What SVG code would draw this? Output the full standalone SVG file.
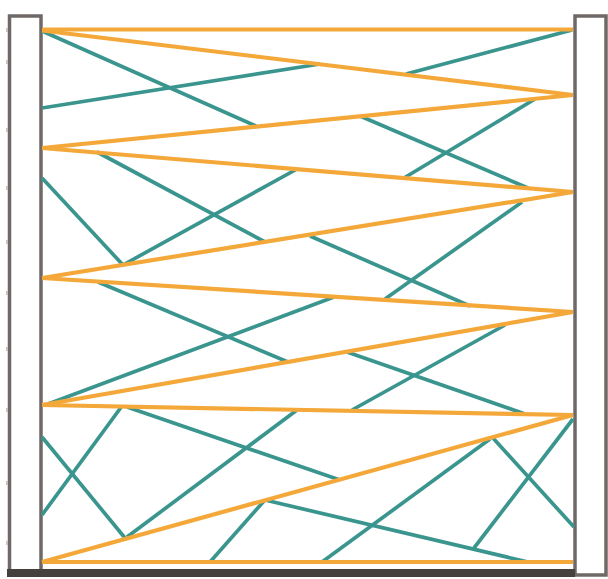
<svg xmlns="http://www.w3.org/2000/svg" width="608" height="579" viewBox="0 0 608 579">
<style>
.post{fill:#ffffff;stroke:#6e6966;stroke-width:3.5}
.base{fill:#45413f}
.nub{fill:#c4c1be}
.o{stroke:#f4a83a;stroke-width:4.2;fill:none;stroke-linecap:butt}
.t{stroke:#3a958e;stroke-width:3.7;fill:none;stroke-linecap:butt}
</style>
<rect width="608" height="579" fill="#ffffff"/>
<g id="left-post">
<rect class="post" x="9.5" y="16" width="31.5" height="556"/>
<rect class="nub" x="6" y="28" width="2" height="4"/>
<rect class="nub" x="6" y="60" width="2" height="4"/>
<rect class="nub" x="6" y="128" width="2" height="4"/>
<rect class="nub" x="6" y="186" width="2" height="4"/>
<rect class="nub" x="6" y="240" width="2" height="4"/>
<rect class="nub" x="6" y="291" width="2" height="4"/>
<rect class="nub" x="6" y="347" width="2" height="4"/>
<rect class="nub" x="6" y="408" width="2" height="4"/>
<rect class="nub" x="6" y="481" width="2" height="4"/>
<rect class="nub" x="6" y="541" width="2" height="4"/>
</g>
<g id="right-post">
<rect class="post" x="575" y="16" width="31" height="559"/>
</g>
<g id="base">
<rect class="base" x="7" y="569" width="568" height="8"/>
</g>
<g id="connectors">
<g id="bracing">
<line class="t" x1="42" y1="31" x2="256" y2="126"/>
<line class="t" x1="42" y1="108" x2="320" y2="64"/>
<line class="t" x1="572" y1="30" x2="406" y2="74"/>
<line class="t" x1="360" y1="116" x2="528" y2="188"/>
<line class="t" x1="535" y1="99" x2="404" y2="178"/>
<line class="t" x1="97" y1="152" x2="265" y2="242"/>
<line class="t" x1="42" y1="178" x2="123" y2="265"/>
<line class="t" x1="123" y1="265" x2="297" y2="169"/>
<line class="t" x1="98" y1="282" x2="288" y2="362"/>
<line class="t" x1="48" y1="404" x2="334" y2="297"/>
<line class="t" x1="310" y1="236" x2="470" y2="306"/>
<line class="t" x1="385" y1="299" x2="522" y2="202"/>
<line class="t" x1="347" y1="352" x2="525" y2="414"/>
<line class="t" x1="505" y1="325" x2="352" y2="410"/>
<line class="t" x1="42" y1="437" x2="125" y2="538"/>
<line class="t" x1="42" y1="515" x2="122" y2="406"/>
<line class="t" x1="127" y1="407" x2="340" y2="480"/>
<line class="t" x1="127" y1="537" x2="297" y2="410"/>
<line class="t" x1="265" y1="500" x2="528" y2="562"/>
<line class="t" x1="210" y1="562" x2="264" y2="501"/>
<line class="t" x1="322" y1="562" x2="490" y2="439"/>
<line class="t" x1="493" y1="438" x2="574" y2="527"/>
<line class="t" x1="474" y1="548" x2="573" y2="419"/>
</g>
<g id="chords">
<line class="o" x1="42" y1="29.5" x2="573" y2="29.5"/>
<line class="o" x1="42" y1="30.5" x2="573" y2="95"/>
<line class="o" x1="573" y1="95" x2="42" y2="148"/>
<line class="o" x1="42" y1="148" x2="573" y2="192"/>
<line class="o" x1="573" y1="192" x2="42" y2="278"/>
<line class="o" x1="42" y1="278" x2="573" y2="312"/>
<line class="o" x1="573" y1="312" x2="42" y2="405"/>
<line class="o" x1="42" y1="405" x2="573" y2="415"/>
<line class="o" x1="573" y1="415" x2="42" y2="562"/>
<line class="o" x1="42" y1="562" x2="573" y2="562"/>
</g>
</g>
</svg>
